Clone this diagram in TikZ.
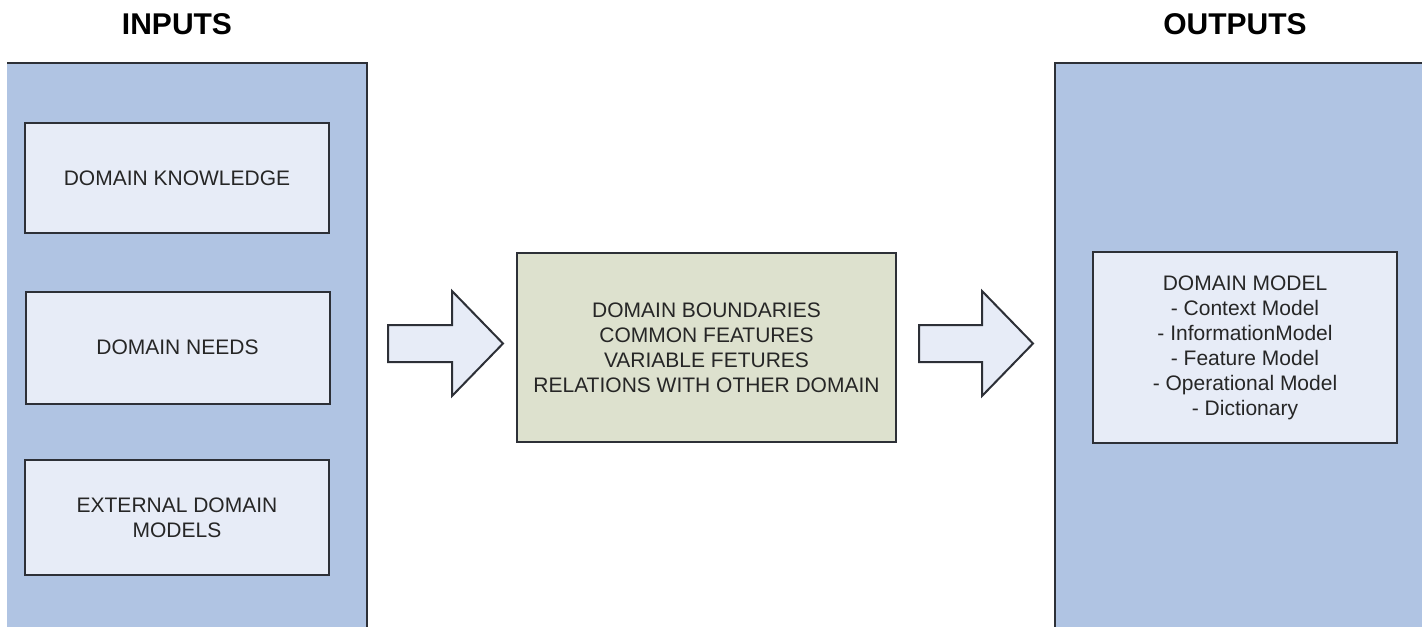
\documentclass[tikz,border=0pt]{standalone}
\usepackage{fontspec}
\setmainfont{Liberation Sans}
\usepackage{xcolor}
\usetikzlibrary{positioning}
\definecolor{PanelBlue}{RGB}{176,196,227}
\definecolor{ItemFill}{RGB}{231,236,247}
\definecolor{CoreFill}{RGB}{221,225,206}
\definecolor{BoxLine}{RGB}{45,48,55}
\definecolor{TextGray}{RGB}{38,38,38}
\tikzset{
  itembox/.style={draw=BoxLine, line width=1pt, fill=ItemFill, text=TextGray, align=center,
    minimum width=152pt, minimum height=56pt, font=\fontsize{10.5}{12.5}\selectfont},
  corebox/.style={itembox, fill=CoreFill, minimum width=189.5pt, minimum height=94.5pt},
  title/.style={font=\fontsize{15}{18}\selectfont\bfseries, text=black},
  blockarrow/.style={draw=BoxLine, line width=1pt, fill=ItemFill, line join=miter},
}

\begin{document}
\begin{tikzpicture}[x=0.5pt,y=-0.5pt]
       \useasboundingbox (0,0) rectangle (1422,627);
       % side panels
       \fill[PanelBlue] (7,63) rectangle (367,627);
       \draw[BoxLine,line width=1pt] (7,63) -- (367,63) -- (367,627);
       \fill[PanelBlue] (1055,63) rectangle (1422,627);
       \draw[BoxLine,line width=1pt] (1422,63) -- (1055,63) -- (1055,627);
       \node[title] (inputs) at (177,24) {INPUTS};
       \node[title] (outputs) at (1235,24) {OUTPUTS};
       % inputs
       \node[itembox, minimum height=55pt] (knowledge) at (177,178) {DOMAIN KNOWLEDGE};
       \node[itembox] (needs) at (177.5,347.5) {DOMAIN NEEDS};
       \node[itembox, minimum height=57.5pt] (external) at (177,517.5) {EXTERNAL DOMAIN\\MODELS};
       % analysis
       \node[corebox] (analysis) at (706.5,347.5) {DOMAIN BOUNDARIES\\COMMON FEATURES\\VARIABLE FETURES\\RELATIONS WITH OTHER DOMAIN};
       % outputs
       \node[itembox, minimum height=95.5pt] (model) at (1245,347.5) {DOMAIN MODEL\\- Context Model\\- InformationModel\\- Feature Model\\- Operational Model\\- Dictionary};
       % block arrows
       \draw[blockarrow] (388,325) -- (452,325) -- (452,291) -- (503,343.5) -- (452,396) -- (452,362) -- (388,362) -- cycle;
       \draw[blockarrow] (919,325) -- (982,325) -- (982,291) -- (1033,343.5) -- (982,396) -- (982,362) -- (919,362) -- cycle;
     \end{tikzpicture}
\end{document}
